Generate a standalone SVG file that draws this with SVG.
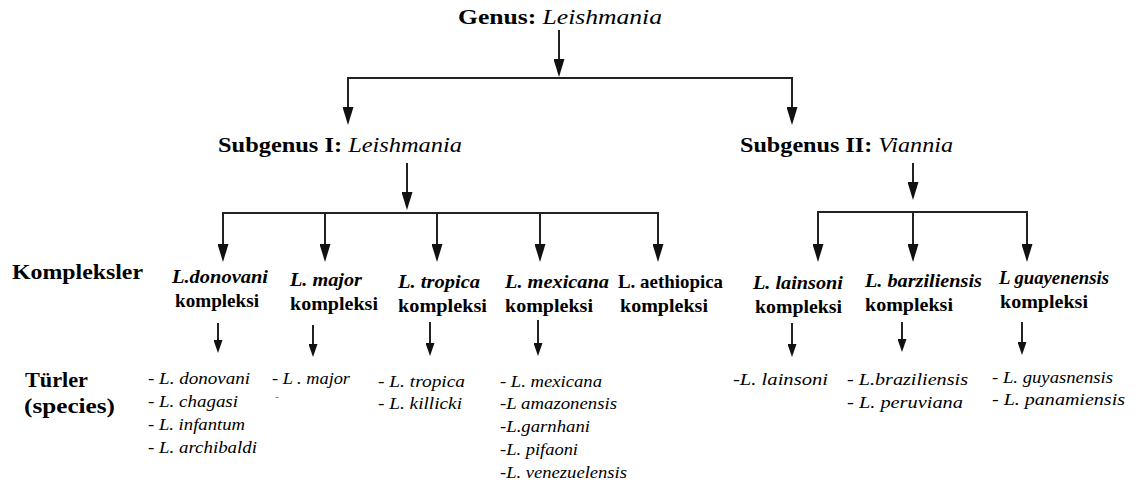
<svg xmlns="http://www.w3.org/2000/svg" width="1136" height="488" viewBox="0 0 1136 488" font-family="'Liberation Serif', 'DejaVu Serif', serif">
<style>
text{font-family:'Liberation Serif','DejaVu Serif',serif;fill:#000}
.big{font-size:22px;font-weight:bold}
.it{font-style:italic;font-weight:normal}
.kx{font-size:19px;font-weight:bold}
.kxi{font-size:19px;font-weight:bold;font-style:italic}
.sp{font-size:16px;font-style:italic}
.ln{stroke:#222;stroke-width:2;fill:none}
.ar{stroke:#222;stroke-width:2;fill:none;marker-end:url(#ah)}
.as{stroke:#222;stroke-width:2;fill:none;marker-end:url(#ahs)}
</style>
<defs>
<marker id="ah" viewBox="0 0 18 11" refX="10" refY="5.5" markerWidth="18" markerHeight="11" markerUnits="userSpaceOnUse" orient="auto"><path d="M0,0 L18,5.5 L0,11 z" fill="#111"/></marker>
<marker id="ahs" viewBox="0 0 13 9" refX="7" refY="4.5" markerWidth="13" markerHeight="9" markerUnits="userSpaceOnUse" orient="auto"><path d="M0,0 L13,4.5 L0,9 z" fill="#111"/></marker>
</defs>
<rect width="1136" height="488" fill="#fff"/>
<g id="connectors">
<line class="ar" x1="559" y1="30" x2="559" y2="69"/>
<line class="ln" x1="347" y1="78" x2="793" y2="78"/>
<line class="ar" x1="348" y1="78" x2="348" y2="117"/>
<line class="ar" x1="792" y1="78" x2="792" y2="117"/>
<line class="ar" x1="407" y1="163" x2="407" y2="202"/>
<line class="ln" x1="222" y1="213" x2="659" y2="213"/>
<line class="ar" x1="223" y1="213" x2="223" y2="254"/>
<line class="ar" x1="325" y1="213" x2="325" y2="254"/>
<line class="ar" x1="437" y1="213" x2="437" y2="254"/>
<line class="ar" x1="540" y1="213" x2="540" y2="254"/>
<line class="ar" x1="658" y1="213" x2="658" y2="254"/>
<line class="ar" x1="913" y1="163" x2="913" y2="192"/>
<line class="ln" x1="817" y1="212" x2="1028" y2="212"/>
<line class="ar" x1="818" y1="212" x2="818" y2="254"/>
<line class="ar" x1="913" y1="212" x2="913" y2="254"/>
<line class="ar" x1="1027" y1="212" x2="1027" y2="254"/>
<line class="as" x1="218" y1="323" x2="218" y2="347"/>
<line class="as" x1="313" y1="325" x2="313" y2="351"/>
<line class="as" x1="430" y1="322" x2="430" y2="350"/>
<line class="as" x1="538" y1="320" x2="538" y2="350"/>
<line class="as" x1="792" y1="323" x2="792" y2="351"/>
<line class="as" x1="902" y1="322" x2="902" y2="346"/>
<line class="as" x1="1022" y1="322" x2="1022" y2="349"/>
</g>
<g id="genus"><text class="big" x="458" y="24" textLength="204" lengthAdjust="spacingAndGlyphs">Genus: <tspan class="it">Leishmania</tspan></text></g>
<g id="subgenus1"><text class="big" x="218" y="152" textLength="244" lengthAdjust="spacingAndGlyphs">Subgenus I: <tspan class="it">Leishmania</tspan></text></g>
<g id="subgenus2"><text class="big" x="740" y="152" textLength="213" lengthAdjust="spacingAndGlyphs">Subgenus II: <tspan class="it">Viannia</tspan></text></g>
<g id="row-kompleksler"><text class="big" x="12" y="279" textLength="131" lengthAdjust="spacingAndGlyphs">Kompleksler</text></g>
<g id="row-turler">
<text class="big" x="25" y="387" textLength="63" lengthAdjust="spacingAndGlyphs">Türler</text>
<text class="big" x="24" y="413" textLength="91" lengthAdjust="spacingAndGlyphs">(species)</text>
</g>
<g id="k-donovani">
<text class="kxi" x="172" y="283" textLength="96" lengthAdjust="spacingAndGlyphs">L.donovani</text>
<text class="kx" x="175" y="307" textLength="84" lengthAdjust="spacingAndGlyphs">kompleksi</text>
</g>
<g id="k-major">
<text class="kxi" x="290" y="286" textLength="72" lengthAdjust="spacingAndGlyphs">L. major</text>
<text class="kx" x="290" y="310" textLength="88" lengthAdjust="spacingAndGlyphs">kompleksi</text>
</g>
<g id="k-tropica">
<text class="kxi" x="398" y="288" textLength="82" lengthAdjust="spacingAndGlyphs">L. tropica</text>
<text class="kx" x="398" y="312" textLength="89" lengthAdjust="spacingAndGlyphs">kompleksi</text>
</g>
<g id="k-mexicana">
<text class="kxi" x="505" y="288" textLength="104" lengthAdjust="spacingAndGlyphs">L. mexicana</text>
<text class="kx" x="505" y="312" textLength="88" lengthAdjust="spacingAndGlyphs">kompleksi</text>
</g>
<g id="k-aethiopica">
<text class="kx" x="618" y="288" textLength="105" lengthAdjust="spacingAndGlyphs">L. aethiopica</text>
<text class="kx" x="620" y="312" textLength="88" lengthAdjust="spacingAndGlyphs">kompleksi</text>
</g>
<g id="k-lainsoni">
<text class="kxi" x="753" y="289" textLength="90" lengthAdjust="spacingAndGlyphs">L. lainsoni</text>
<text class="kx" x="755" y="313" textLength="87" lengthAdjust="spacingAndGlyphs">kompleksi</text>
</g>
<g id="k-barziliensis">
<text class="kxi" x="865" y="287" textLength="117" lengthAdjust="spacingAndGlyphs">L. barziliensis</text>
<text class="kx" x="865" y="311" textLength="88" lengthAdjust="spacingAndGlyphs">kompleksi</text>
</g>
<g id="k-guayenensis">
<text class="kxi" x="999" y="284" textLength="110" lengthAdjust="spacingAndGlyphs">L guayenensis</text>
<text class="kx" x="1000" y="308" textLength="88" lengthAdjust="spacingAndGlyphs">kompleksi</text>
</g>
<g id="s-donovani">
<text class="sp" x="148" y="384" textLength="102" lengthAdjust="spacingAndGlyphs">- L. donovani</text>
<text class="sp" x="148" y="407" textLength="90" lengthAdjust="spacingAndGlyphs">- L. chagasi</text>
<text class="sp" x="148" y="430" textLength="97" lengthAdjust="spacingAndGlyphs">- L. infantum</text>
<text class="sp" x="148" y="453" textLength="109" lengthAdjust="spacingAndGlyphs">- L. archibaldi</text>
</g>
<g id="s-major">
<text class="sp" x="272" y="384" textLength="78" lengthAdjust="spacingAndGlyphs">- L . major</text>
<text class="sp" x="275" y="400" style="font-size:11px;fill:#666">-</text>
</g>
<g id="s-tropica">
<text class="sp" x="378" y="387" textLength="87" lengthAdjust="spacingAndGlyphs">- L. tropica</text>
<text class="sp" x="378" y="409" textLength="84" lengthAdjust="spacingAndGlyphs">- L. killicki</text>
</g>
<g id="s-mexicana">
<text class="sp" x="500" y="387" textLength="102" lengthAdjust="spacingAndGlyphs">- L. mexicana</text>
<text class="sp" x="500" y="409" textLength="117" lengthAdjust="spacingAndGlyphs">-L amazonensis</text>
<text class="sp" x="500" y="432" textLength="90" lengthAdjust="spacingAndGlyphs">-L.garnhani</text>
<text class="sp" x="500" y="455" textLength="78" lengthAdjust="spacingAndGlyphs">-L. pifaoni</text>
<text class="sp" x="500" y="478" textLength="127" lengthAdjust="spacingAndGlyphs">-L. venezuelensis</text>
</g>
<g id="s-lainsoni"><text class="sp" x="733" y="385" textLength="95" lengthAdjust="spacingAndGlyphs">-L. lainsoni</text></g>
<g id="s-braziliensis">
<text class="sp" x="847" y="385" textLength="121" lengthAdjust="spacingAndGlyphs">- L.braziliensis</text>
<text class="sp" x="847" y="408" textLength="116" lengthAdjust="spacingAndGlyphs">- L. peruviana</text>
</g>
<g id="s-guayenensis">
<text class="sp" x="992" y="383" textLength="121" lengthAdjust="spacingAndGlyphs">- L. guyasnensis</text>
<text class="sp" x="992" y="405" textLength="133" lengthAdjust="spacingAndGlyphs">- L. panamiensis</text>
</g>
</svg>
